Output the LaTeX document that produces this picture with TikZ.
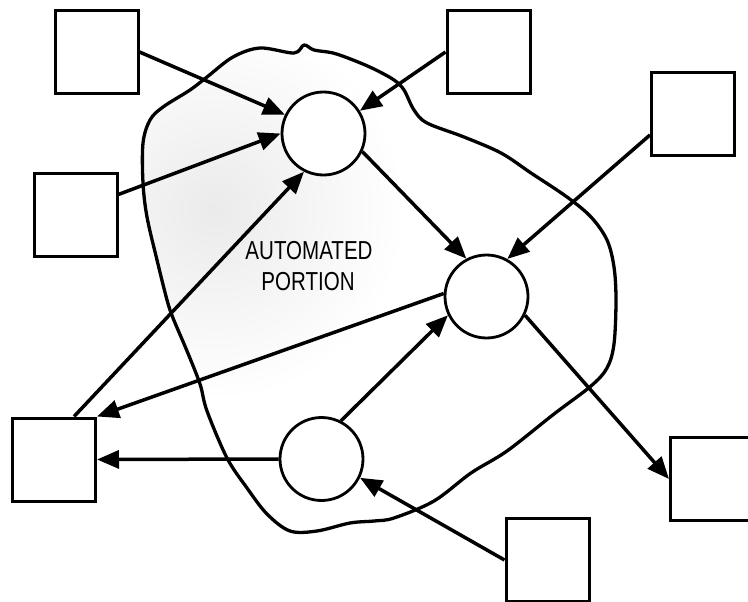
\documentclass[tikz,border=0pt]{standalone}
\usepackage{fontspec}
\newfontfamily\labelfont[FakeStretch=0.79]{Liberation Sans}
\usetikzlibrary{arrows.meta}
\tikzset{
  boxnode/.style={draw, fill=white, line width=3pt, minimum size=83pt, inner sep=0pt},
  circnode/.style={draw, fill=white, circle, line width=2.8pt, minimum size=83pt, inner sep=0pt},
  flow/.style={line width=3.5pt, -{Triangle[length=22pt,width=18pt]}},
  outline/.style={line width=3.3pt, line join=round},
  lbl/.style={font=\labelfont\fontsize{26pt}{31pt}\selectfont, inner sep=0pt, anchor=base}
}
\begin{document}
\begin{tikzpicture}[x=1pt,y=-1pt]
\useasboundingbox (0,0) rectangle (748,602);
% automated region outline
\def\blobpath{plot[smooth cycle, tension=0.55] coordinates {
 (304,45) (314,50) (333,53) (353,60) (374,69) (394,80) (404,90) (414,110)
 (427,123) (464,137) (501,153) (531,173) (567,197) (591,217) (607,240)
 (614,267) (616,300) (614,344) (607,368) (591,386) (554,414) (507,451)
 (471,473) (434,501) (394,518) (374,521) (350,523) (317,531) (290,531)
 (267,514) (247,488) (227,458) (207,411) (200,384) (187,351) (173,318)
 (167,300) (157,260) (147,217) (143,183) (143,143) (150,120) (163,107)
 (190,90) (207,77) (233,57) (260,48) (294,53)}}
\begin{scope}
  \clip \blobpath;
  \shade[inner color=black!8, outer color=white] (215,210) circle (190);
\end{scope}
\draw[outline] \blobpath;
% boxes
\node[boxnode] (b1) at (96.5,52) {};
\node[boxnode] (b2) at (75.5,214.5) {};
\node[boxnode] (b3) at (488.5,52) {};
\node[boxnode] (b4) at (693,114) {};
\node[boxnode] (b5) at (54,459.5) {};
\node[boxnode] (b6) at (712,479) {};
\node[boxnode] (b7) at (547.5,560) {};
% circles
\node[circnode] (c1) at (323.5,133.5) {};
\node[circnode] (c2) at (486.5,296.5) {};
\node[circnode] (c3) at (321.5,459) {};
% label
\node[lbl] (t1) at (309,259) {AUTOMATED};
\node[lbl] (t2) at (308,290) {PORTION};
% connectors
\draw[flow] (b1.east) -- (c1.154);
\draw[flow] (b2.25) -- (c1.180);
\draw[flow] (b5.65) -- (c1.243);
\draw[flow] (b3.west) -- (c1.32);
\draw[flow] (c1.335) -- (c2.118);
\draw[flow] (b4.206) -- (c2.61);
\draw[flow] (c2.176) -- (b5.north east);
\draw[flow] (c3.63) -- (c2.206);
\draw[flow] (c3.west) -- (b5.east);
\draw[flow] (c2.334) -- (b6.west);
\draw[flow] (b7.west) -- (c3.334);
\end{tikzpicture}
\end{document}
